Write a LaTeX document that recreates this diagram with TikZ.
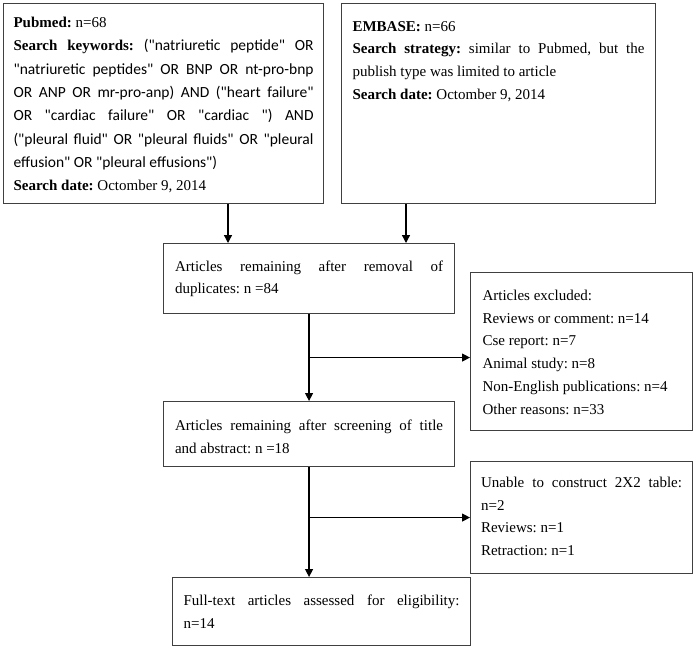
\documentclass[tikz,border=0pt]{standalone}
\usepackage{fontspec}
\setmainfont{Liberation Serif}
\newfontfamily\calfont{Carlito}
\usetikzlibrary{arrows.meta,calc}
\frenchspacing
\newcommand\jl[1]{\makebox[\linewidth][s]{\spaceskip=3.8pt plus 1fil\xspaceskip=3.8pt plus 1fil\relax #1}}
\newcommand\bx[4]{\parbox[c][#2][t]{#1}{\rule{0pt}{#3}#4}}
\newcommand\kw{\calfont\fontsize{15.5}{23.3}\selectfont}
\tikzset{
  boxn/.style={draw=black!75, line width=1.1pt, anchor=north west, inner ysep=0pt,
    font=\fontsize{15}{22.7}\selectfont},
  arr/.style={draw=black, line width=1.3pt, -{Triangle[length=8pt,width=8pt]}}
}
\begin{document}
\begin{tikzpicture}[x=1pt,y=-1pt]
\useasboundingbox (0,0) rectangle (695,648);
\fill[white] (0,0) rectangle (695,648);

\node[boxn, inner xsep=10pt, minimum width=320pt, minimum height=200pt,
  font=\fontsize{15}{23.3}\selectfont] (pub) at (3,3)
 {\bx{300pt}{200pt}{24pt}{\textbf{Pubmed:} n=68\\
  \jl{\textbf{Search keywords:} {\kw ("natriuretic peptide" OR}}\\
  \jl{\kw "natriuretic peptides" OR BNP OR nt-pro-bnp}\\
  \jl{\kw OR ANP OR mr-pro-anp) AND ("heart failure"}\\
  \jl{\kw OR "cardiac failure" OR "cardiac ") AND}\\
  \jl{\kw ("pleural fluid" OR "pleural fluids" OR "pleural}\\
  {\kw effusion" OR "pleural effusions")}\\
  \textbf{Search date:} Octomber 9, 2014}};

\node[boxn, inner xsep=11pt, minimum width=314pt, minimum height=200pt] (emb) at (341,3)
 {\bx{292pt}{200pt}{27.7pt}{\textbf{EMBASE:} n=66\\
  \jl{\textbf{Search strategy:} similar to Pubmed, but the}\\
  publish type was limited to article\\
  \textbf{Search date:} Octomber 9, 2014}};

\node[boxn, inner xsep=11.5pt, minimum width=291pt, minimum height=70pt] (b3) at (163,243)
 {\bx{268pt}{70pt}{27.7pt}{\jl{Articles remaining after removal of}\\
  duplicates: n =84}};

\node[boxn, inner xsep=12pt, minimum width=222pt, minimum height=158pt] (excl) at (470,272)
 {\bx{198pt}{158pt}{28pt}{Articles excluded:\\
  Reviews or comment: n=14\\
  Cse report: n=7\\
  Animal study: n=8\\
  Non-English publications: n=4\\
  Other reasons: n=33}};

\node[boxn, inner xsep=11.5pt, minimum width=291pt, minimum height=65pt] (b4) at (163,401)
 {\bx{268pt}{65pt}{29pt}{\jl{Articles remaining after screening of title}\\
  and abstract: n =18}};

\node[boxn, inner xsep=10.5pt, minimum width=222pt, minimum height=112pt] (b5) at (470,461)
 {\bx{201pt}{112pt}{26pt}{\jl{Unable to construct 2X2 table:}\\
  n=2\\
  Reviews: n=1\\
  Retraction: n=1}};

\node[boxn, inner xsep=11pt, minimum width=298pt, minimum height=68pt] (b6) at (172,577)
 {\bx{276pt}{68pt}{28pt}{\jl{Full-text articles assessed for eligibility:}\\
  n=14}};

\coordinate (a1) at ([xshift=65pt]b3.north west);
\coordinate (a2) at ([xshift=243pt]b3.north west);
\draw[arr] (pub.south -| a1) -- (a1);
\draw[arr] (emb.south -| a2) -- (a2);
\draw[arr] (b3.south) -- (b4.north);
\coordinate (j1) at ($(b3.south)!0.5!(b4.north)$);
\draw[arr] (j1) -- (j1 -| excl.west);
\coordinate (j2) at (b4.south |- b5.west);
\draw[arr] (b4.south) -- (b4.south |- b6.north);
\draw[arr] (j2) -- (b5.west);
\end{tikzpicture}
\end{document}
